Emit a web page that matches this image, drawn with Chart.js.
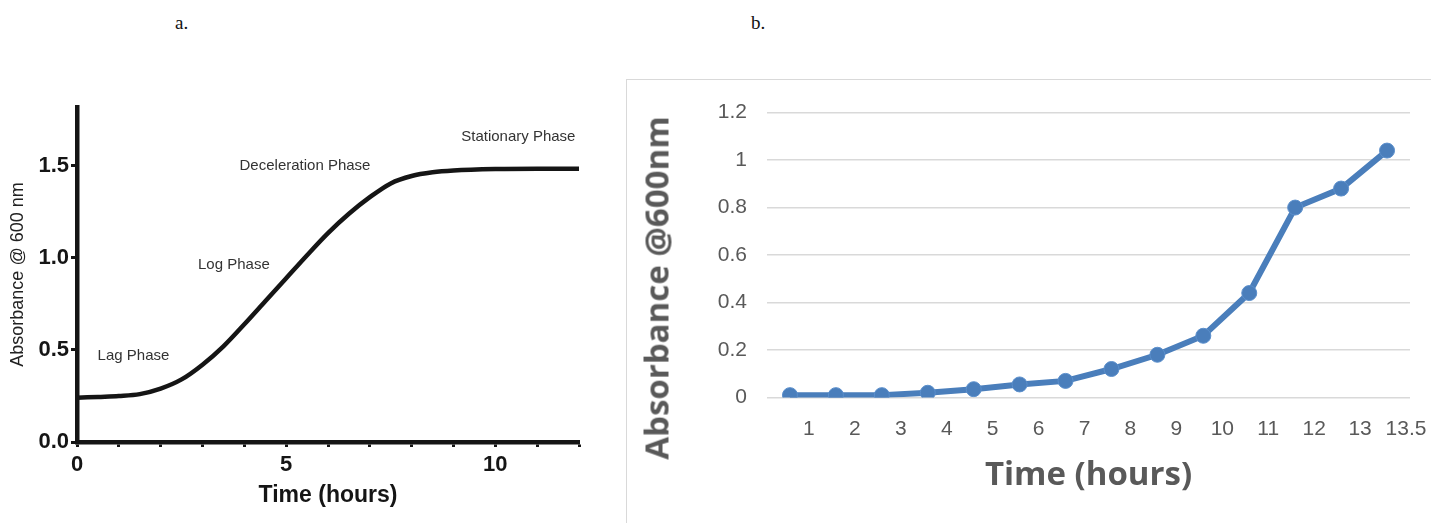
<!DOCTYPE html>
<html>
<head>
<meta charset="utf-8">
<script src="https://cdn.jsdelivr.net/npm/chart.js@4.4.1/dist/chart.umd.min.js"></script>
<style>
  html, body { margin: 0; padding: 0; background: #fff; }
  body { width: 1431px; height: 523px; position: relative; overflow: hidden; }
  .tag { position: absolute; top: 12px; font: 19px "Liberation Serif", serif; color: #111; }
  #boxA { position: absolute; left: 0; top: 90px; width: 600px; height: 433px; }
  #frameB { position: absolute; left: 626px; top: 79px; width: 900px; height: 500px;
            border: 1.5px solid #d9d9d9; box-sizing: border-box; }
  #boxB { position: absolute; left: 627px; top: 80px; width: 804px; height: 443px; }
  #titleB { position: absolute; left: 656px; top: 288px; transform: translate(-50%, -50%) rotate(-90deg);
            font: bold 33px "Open Sans", sans-serif; color: #595959; white-space: nowrap; }
</style>
</head>
<body>
<div class="tag" style="left:175px">a.</div>
<div class="tag" style="left:751px">b.</div>

<div id="boxA"><canvas id="chartA"></canvas></div>
<div id="frameB"></div>
<div id="boxB"><canvas id="chartB"></canvas></div>
<div id="titleB">Absorbance @600nm</div>

<script>
// ---------- a. growth curve ----------
const curveHours = [0, 0.5, 1, 1.5, 2, 2.5, 3, 3.5, 4, 4.5, 5, 5.5, 6, 6.5, 7, 7.5, 8, 8.5, 9, 10, 11, 12];
const curveAbs   = [0.24, 0.245, 0.25, 0.26, 0.29, 0.34, 0.42, 0.52, 0.64, 0.765, 0.89, 1.015, 1.135, 1.24, 1.33, 1.405, 1.445, 1.465, 1.475, 1.483, 1.485, 1.485];

// phase labels: text, hour, absorbance
const phaseNames = ['Lag Phase', 'Log Phase', 'Deceleration Phase', 'Stationary Phase'];
const phaseHours = [1.35, 3.75, 5.45, 10.55];
const phaseAbs   = [0.47, 0.96, 1.50, 1.66];

// ---------- b. measured absorbance ----------
const timeLabels = ['1', '2', '3', '4', '5', '6', '7', '8', '9', '10', '11', '12', '13', '13.5'];
const absorbance = [0.01, 0.01, 0.01, 0.02, 0.035, 0.055, 0.07, 0.12, 0.18, 0.26, 0.44, 0.8, 0.88, 1.04];

// draws the phase names at data coordinates
const phaseText = {
    id: 'phaseText',
    afterDatasetsDraw(chart) {
        const ctx = chart.ctx;
        const xs = chart.scales.x, ys = chart.scales.y;
        ctx.save();
        ctx.font = '15px "Liberation Sans", Arial, sans-serif';
        ctx.fillStyle = '#333';
        ctx.textAlign = 'center';
        ctx.textBaseline = 'middle';
        phaseNames.forEach((name, i) => {
            ctx.fillText(name, xs.getPixelForValue(phaseHours[i]), ys.getPixelForValue(phaseAbs[i]));
        });
        ctx.restore();
    }
};

const ink = '#151515';

new Chart(document.getElementById('chartA'), {
    type: 'line',
    data: {
        datasets: [{
            data: curveHours.map((h, i) => ({ x: h, y: curveAbs[i] })),
            borderColor: ink,
            borderWidth: 4.5,
            pointRadius: 0,
            cubicInterpolationMode: 'monotone',
            fill: false
        }]
    },
    options: {
        responsive: true,
        maintainAspectRatio: false,
        animation: false,
        layout: { padding: { top: 17, right: 21, left: 0, bottom: 0 } },
        plugins: { legend: { display: false }, tooltip: { enabled: false } },
        scales: {
            x: {
                type: 'linear',
                min: 0, max: 12,
                afterFit: s => { s.height = 81; },
                border: { display: true, width: 4.5, color: ink },
                grid: { drawOnChartArea: false, drawTicks: true, tickLength: 5, tickWidth: 3, color: ink },
                ticks: {
                    stepSize: 1, autoSkip: false, maxRotation: 0, padding: 5,
                    color: ink,
                    font: { family: '"Liberation Sans", Arial, sans-serif', size: 22, weight: 'bold' },
                    callback: v => (v % 5 === 0 ? String(v) : '')
                },
                title: {
                    display: true, text: 'Time (hours)', color: ink,
                    font: { family: '"Liberation Sans", Arial, sans-serif', size: 23, weight: 'bold' },
                    padding: { top: 0, bottom: 14 }
                }
            },
            y: {
                min: 0, max: 1.82,
                afterFit: s => { s.width = 77; },
                border: { display: true, width: 4.5, color: ink },
                grid: { drawOnChartArea: false, drawTicks: true, tickLength: 6, tickWidth: 3, color: ink },
                ticks: {
                    stepSize: 0.5, includeBounds: false, padding: 2,
                    color: ink,
                    font: { family: '"Liberation Sans", Arial, sans-serif', size: 22, weight: 'bold' },
                    callback: v => v.toFixed(1)
                },
                title: {
                    display: true, text: 'Absorbance @ 600 nm', color: '#222',
                    font: { family: '"Liberation Sans", Arial, sans-serif', size: 18 },
                    padding: { top: 7, bottom: 0 }
                }
            }
        }
    },
    plugins: [phaseText]
});

const blue = '#4a7ebb';
const grey = '#595959';

new Chart(document.getElementById('chartB'), {
    type: 'line',
    data: {
        labels: timeLabels,
        datasets: [{
            data: absorbance,
            borderColor: blue,
            borderWidth: 6,
            pointRadius: 7.5,
            pointBackgroundColor: blue,
            pointBorderColor: '#5b8fcc',
            pointBorderWidth: 1,
            tension: 0,
            fill: false
        }]
    },
    options: {
        responsive: true,
        maintainAspectRatio: false,
        animation: false,
        layout: { padding: { top: 29, right: 21, left: 0, bottom: 0 } },
        plugins: { legend: { display: false }, tooltip: { enabled: false } },
        scales: {
            x: {
                offset: true,
                afterFit: s => { s.height = 125.5; },
                border: { display: false },
                grid: { display: false },
                ticks: {
                    autoSkip: false, maxRotation: 0, padding: 11, labelOffset: 19,
                    color: grey,
                    font: { family: '"Liberation Sans", Arial, sans-serif', size: 21 }
                },
                title: {
                    display: true, text: 'Time (hours)', color: grey,
                    font: { family: '"Open Sans", sans-serif', size: 33, weight: 'bold' },
                    padding: { top: 0, bottom: 28 }
                }
            },
            y: {
                min: 0, max: 1.2,
                afterFit: s => { s.width = 140; },
                border: { display: false },
                grid: { color: '#d9d9d9', lineWidth: 1.5, drawTicks: false },
                ticks: {
                    stepSize: 0.2, padding: 20,
                    color: grey,
                    font: { family: '"Liberation Sans", Arial, sans-serif', size: 21 },
                    callback: v => String(Math.round(v * 10) / 10)
                }
            }
        }
    }
});
</script>
</body>
</html>
